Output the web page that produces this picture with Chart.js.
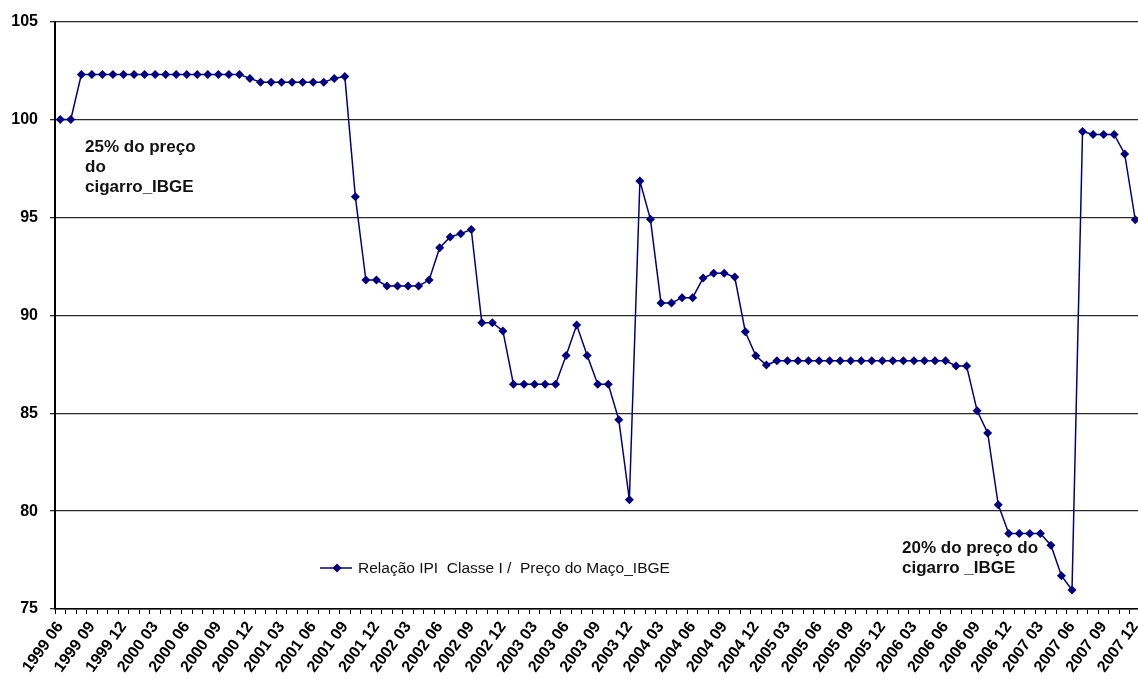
<!DOCTYPE html>
<html>
<head>
<meta charset="utf-8">
<title>Relação IPI Classe I / Preço do Maço_IBGE</title>
<script src="https://cdn.jsdelivr.net/npm/chart.js@4.4.1/dist/chart.umd.min.js"></script>
<style>
  html, body { margin: 0; padding: 0; background: #fff; overflow: hidden; }
  #wrap { position: relative; width: 1145px; height: 679px; }
</style>
</head>
<body>
<div id="wrap"><canvas id="c"></canvas></div>
<script>
// Monthly ratio, June 1999 – December 2007, one array per calendar year
const v1999 = [100, 100, 102.3, 102.3, 102.3, 102.3, 102.3];
const v2000 = [102.3, 102.3, 102.3, 102.3, 102.3, 102.3, 102.3, 102.3, 102.3, 102.3, 102.3, 102.1];
const v2001 = [101.9, 101.9, 101.9, 101.9, 101.9, 101.9, 101.9, 102.1, 102.2, 96.05, 91.8, 91.8];
const v2002 = [91.5, 91.5, 91.5, 91.5, 91.8, 93.45, 94.0, 94.17, 94.38, 89.62, 89.62, 89.2];
const v2003 = [86.48, 86.48, 86.48, 86.48, 86.48, 87.95, 89.5, 87.95, 86.48, 86.48, 84.66, 80.58];
const v2004 = [96.86, 94.9, 90.63, 90.63, 90.9, 90.9, 91.9, 92.15, 92.15, 91.95, 89.16, 87.93];
const v2005 = [87.46, 87.68, 87.68, 87.68, 87.68, 87.68, 87.68, 87.68, 87.68, 87.68, 87.68, 87.68];
const v2006 = [87.68, 87.68, 87.68, 87.68, 87.68, 87.68, 87.41, 87.41, 85.12, 83.99, 80.33, 78.85];
const v2007 = [78.85, 78.85, 78.85, 78.26, 76.7, 75.97, 99.39, 99.24, 99.24, 99.24, 98.24, 94.88];

const seriesName = 'Relação IPI  Classe I /  Preço do Maço_IBGE';
const noteHigh = ['25% do preço', 'do', 'cigarro_IBGE'];
const noteLow = ['20% do preço do', 'cigarro _IBGE'];
const yTicks = [75, 80, 85, 90, 95, 100, 105];

// Month categories "YYYY MM"
const categories = [];
for (let y = 1999, m = 6; y < 2008; ) {
  categories.push(y + ' ' + String(m).padStart(2, '0'));
  m++; if (m > 12) { m = 1; y++; }
}
const values = [].concat(v1999, v2000, v2001, v2002, v2003, v2004, v2005, v2006, v2007);

const NAVY = '#000080';
const FONT = '"Liberation Sans", Arial, sans-serif';

// Legend and text notes drawn onto the canvas
const overlay = {
  id: 'overlay',
  afterDraw(chart) {
    const ctx = chart.ctx;
    const area = chart.chartArea;
    ctx.save();
    // legend
    const ly = 568, lx = 320;
    ctx.strokeStyle = NAVY; ctx.lineWidth = 1.5;
    ctx.beginPath(); ctx.moveTo(lx, ly); ctx.lineTo(lx + 32, ly); ctx.stroke();
    ctx.fillStyle = NAVY;
    ctx.beginPath();
    const mx = lx + 17, r = 4.5;
    ctx.moveTo(mx, ly - r); ctx.lineTo(mx + r, ly); ctx.lineTo(mx, ly + r); ctx.lineTo(mx - r, ly);
    ctx.closePath(); ctx.fill();
    ctx.fillStyle = '#111';
    ctx.font = '15.5px ' + FONT;
    ctx.textBaseline = 'middle';
    ctx.textAlign = 'left';
    ctx.fillText(seriesName, lx + 38, ly + 1);
    // notes
    ctx.font = 'bold 17px ' + FONT;
    ctx.textBaseline = 'alphabetic';
    noteHigh.forEach((t, i) => ctx.fillText(t, area.left + 30, 152 + i * 20));
    noteLow.forEach((t, i) => ctx.fillText(t, 902, 553 + i * 20));
    ctx.restore();
  }
};

new Chart(document.getElementById('c'), {
  type: 'line',
  data: {
    labels: categories,
    datasets: [{
      label: seriesName,
      data: values,
      borderColor: NAVY,
      backgroundColor: NAVY,
      borderWidth: 1.5,
      pointStyle: 'rectRot',
      pointRadius: 4.5,
      pointBorderWidth: 0,
      pointBackgroundColor: NAVY,
      tension: 0
    }]
  },
  options: {
    responsive: true,
    maintainAspectRatio: false,
    animation: false,
    layout: { padding: { top: 19, left: 0, right: 0, bottom: 0 } },
    plugins: { legend: { display: false }, tooltip: { enabled: false } },
    scales: {
      x: {
        type: 'category',
        offset: true,
        afterFit(s) { s.height = 70; s.paddingRight = 0; s.paddingLeft = 0; },
        grid: {
          offset: true,
          drawOnChartArea: false,
          drawTicks: true,
          tickLength: 5,
          color: '#000',
          lineWidth: 1
        },
        border: { color: '#000', width: 1.5 },
        ticks: {
          autoSkip: false,
          minRotation: 54,
          maxRotation: 54,
          padding: 4,
          color: '#000',
          font: { family: FONT, size: 16, weight: 'bold' },
          callback(v, i) { return i % 3 === 0 ? categories[i] : ''; }
        }
      },
      y: {
        min: 75,
        max: 105,
        afterFit(s) { s.width = 55; },
        afterBuildTicks(s) { s.ticks = yTicks.map(v => ({ value: v })); },
        grid: {
          color: '#2a2a2a',
          lineWidth: 1.3,
          tickLength: 5,
          drawTicks: true
        },
        border: { color: '#000', width: 2 },
        ticks: {
          padding: 12,
          color: '#000',
          font: { family: FONT, size: 16, weight: 'bold' }
        }
      }
    }
  },
  plugins: [overlay]
});
</script>
</body>
</html>
